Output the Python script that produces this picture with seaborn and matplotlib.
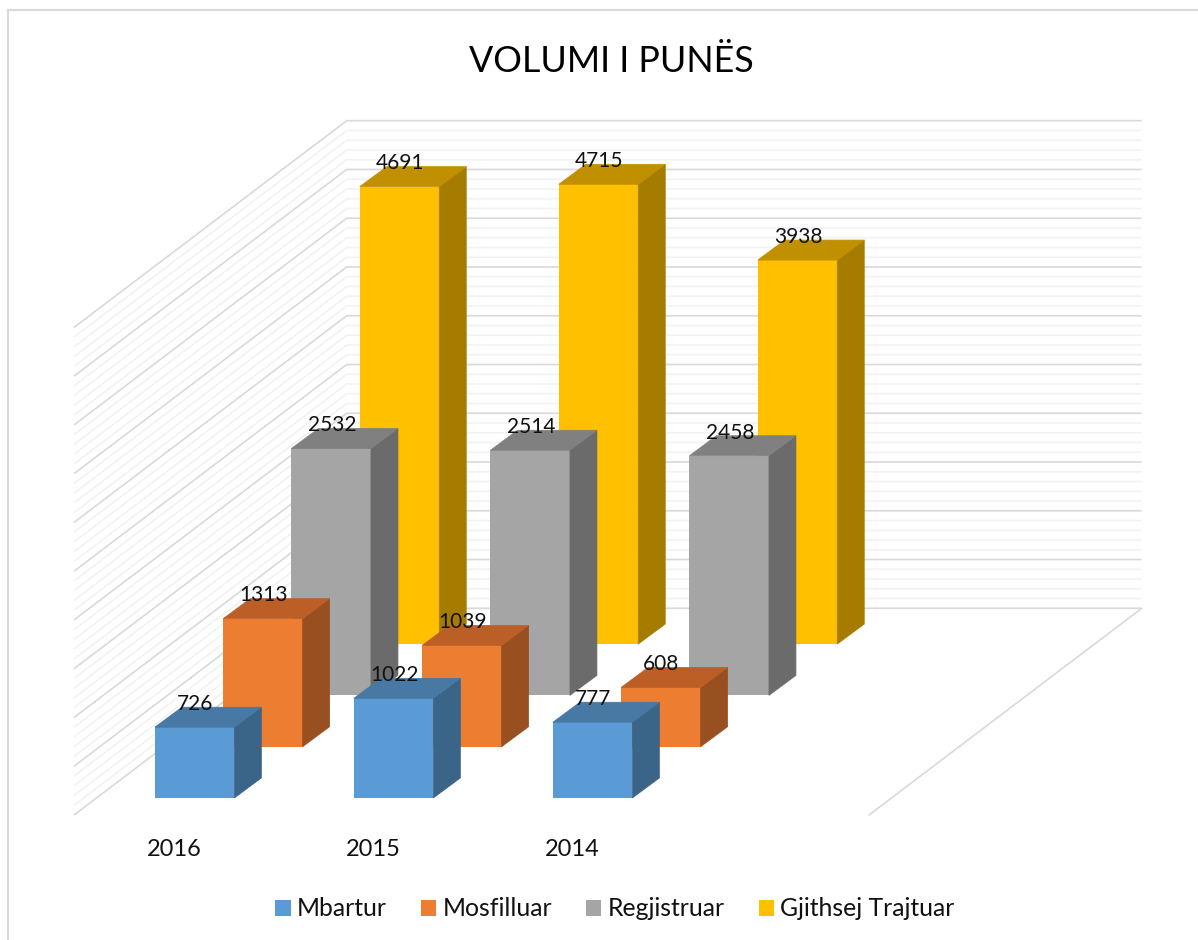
import numpy as np
import pandas as pd
import matplotlib
matplotlib.use("Agg")
import matplotlib.pyplot as plt
from matplotlib.patches import Patch, Polygon
from matplotlib.lines import Line2D
import seaborn as sns

years = ["2016", "2015", "2014"]
series = ["Mbartur", "Mosfilluar", "Regjistruar", "Gjithsej Trajtuar"]
mbartur = [726, 1022, 777]
mosfilluar = [1313, 1039, 608]
regjistruar = [2532, 2514, 2458]
trajtuar = [4691, 4715, 3938]
all_values = [mbartur, mosfilluar, regjistruar, trajtuar]

front_colors = ["#5B9BD5", "#ED7D31", "#A5A5A5", "#FFC000"]
top_colors = ["#4878A4", "#BC5F26", "#808080", "#C09000"]
side_colors = ["#3A6488", "#985020", "#6B6B6B", "#A67C00"]

MAJOR = "#D9D9D9"
MINOR = "#F2F2F2"

# data units per pixel of the picture
X_PX = 199.0
Y_PX = 0.09752
W, H = 1198, 940

# oblique depth of the chart, in data units
bar_dx, bar_dy = 27 / X_PX, 20 / Y_PX
step_dx, step_dy = 68.3 / X_PX, 51.3 / Y_PX
wall_dx, wall_dy = 272.7 / X_PX, 206.7 / Y_PX
base_y = 17 / Y_PX
wall_x = (74 - 194.6) / X_PX
floor_x = (869 - 194.6) / X_PX

sns.set_theme(style="white")
plt.rcParams["font.family"] = ["Lato", "DejaVu Sans"]

fig = plt.figure(figsize=(W / 100, H / 100), dpi=100)
ax = fig.add_axes([0, 0, 1, 1])

# side walls and back wall
for v in np.arange(0, 5001, 100):
    color = MAJOR if v % 500 == 0 else MINOR
    ax.plot([wall_x, wall_x + wall_dx, floor_x + wall_dx],
            [v, v + wall_dy, v + wall_dy],
            color=color, lw=1.2, zorder=0.5 if v % 500 else 0.6, solid_capstyle="butt")
ax.plot([floor_x, floor_x + wall_dx], [0, wall_dy], color=MAJOR, lw=1.2, zorder=0.6)

# back row first so the nearer bars cover it
for i in reversed(range(len(series))):
    df = pd.DataFrame({"pos": np.arange(3) + i * step_dx, "value": all_values[i]})
    before = len(ax.patches)
    sns.barplot(data=df, x="pos", y="value", native_scale=True, width=79.5 / X_PX,
                color=front_colors[i], saturation=1, linewidth=0, ax=ax,
                bottom=base_y + i * step_dy, zorder=1.2)
    for bar, val in zip(ax.patches[before:], all_values[i]):
        x0, x1 = bar.get_x(), bar.get_x() + bar.get_width()
        y0, y1 = bar.get_y(), bar.get_y() + bar.get_height()
        # small edge closes the seam against the front face
        ax.add_patch(Polygon([(x1, y0), (x1 + bar_dx, y0 + bar_dy), (x1 + bar_dx, y1 + bar_dy), (x1, y1)],
                             closed=True, fc=side_colors[i], ec=side_colors[i], lw=0.5, zorder=1.2))
        ax.add_patch(Polygon([(x0, y1), (x1, y1), (x1 + bar_dx, y1 + bar_dy), (x0 + bar_dx, y1 + bar_dy)],
                             closed=True, fc=top_colors[i], ec=top_colors[i], lw=0.5, zorder=1.2))
        ax.annotate(str(val), xy=((x0 + x1) / 2, y1), xytext=(0.4, 16.7), textcoords="offset points",
                    ha="center", va="center", fontsize=15, color="#111111", zorder=5)

ax.set_xlim(-194.6 / X_PX, (W - 194.6) / X_PX)
ax.set_ylim((815 - H) / Y_PX, 815 / Y_PX)
ax.set_xlabel("")
ax.set_ylabel("")
ax.set_xticks([])
ax.set_yticks([])
ax.axis("off")

# year labels sit left of the blue bars
for k, year in enumerate(years):
    ax.text(k - 20 / X_PX, -35 / Y_PX, year, ha="center", va="center", fontsize=17, color="#111111")

fig.text(611 / W, 1 - 61 / H, "VOLUMI I PUNËS", ha="center", va="center", fontsize=25.8, color="black")

handles = [Patch(fc=c, lw=0) for c in front_colors]
fig.legend(handles, series, loc="center", bbox_to_anchor=(615 / W, 1 - 909 / H), ncol=4, frameon=False,
           fontsize=17.8, handlelength=0.62, handleheight=0.62, handletextpad=0.25, columnspacing=1.38,
           labelcolor="#111111")

# chart border, only the top and left edges show
fig.add_artist(Line2D([8 / W, 8 / W], [0, 1 - 10 / H], color=MAJOR, lw=1.5))
fig.add_artist(Line2D([8 / W, 1198 / W], [1 - 10 / H, 1 - 10 / H], color=MAJOR, lw=1.5))

fig.savefig("out.png", dpi=100)
